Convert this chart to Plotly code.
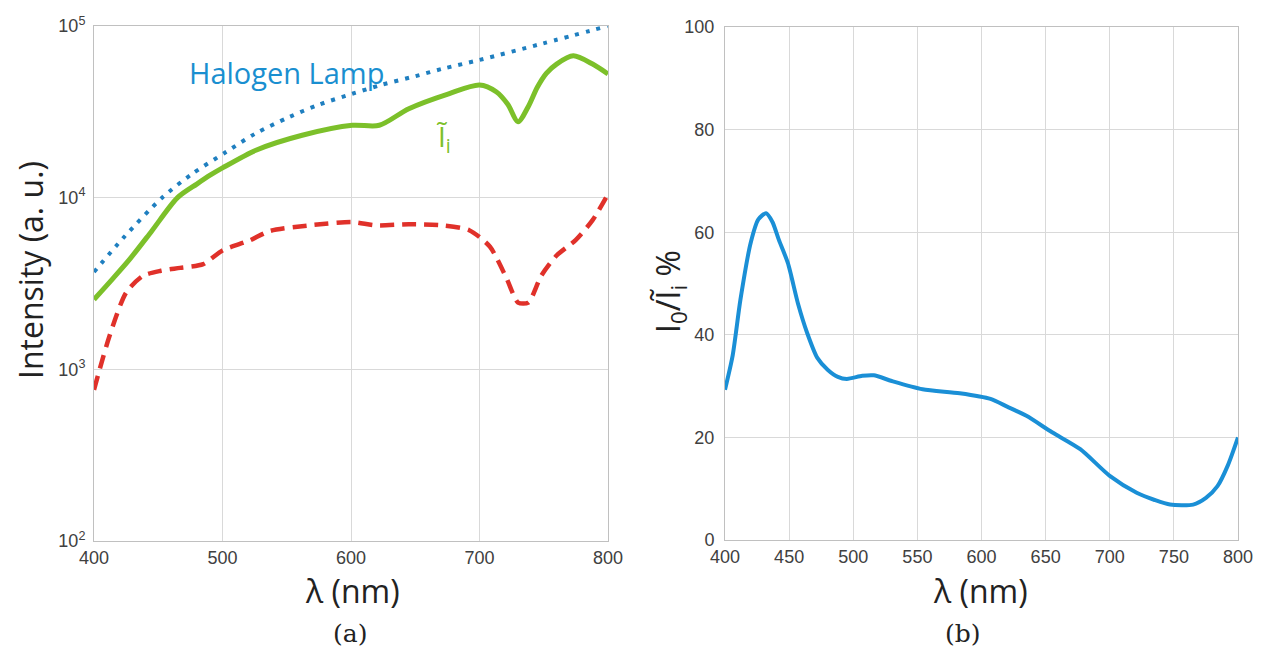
import plotly.graph_objects as go

# ---- data ----
halogen_wl = [400, 423, 453, 476, 503, 525, 552, 575, 601, 624, 650, 671, 700, 749, 800]
halogen_int = [3690, 5850, 10000, 13700, 18500, 23500, 29500, 34800, 40300, 45500, 51000, 56300, 63400, 79000, 100000]

ti_wl = [400, 415, 428, 445, 465, 480, 491, 500, 526, 562, 601, 622, 645, 676, 700, 713, 722, 730, 738, 745, 752, 760, 773, 788, 800]
ti_int = [2550, 3400, 4400, 6400, 10000, 12000, 13600, 14900, 18900, 23100, 26400, 26400, 33000, 40300, 45300, 41400, 35000, 27700, 34000, 44000, 53000, 60000, 67000, 60000, 52500]

red_wl = [400, 412, 425, 438, 452, 467, 485, 500, 521, 537, 568, 601, 619, 645, 671, 692, 708, 721, 730, 738, 748, 760, 775, 788, 800]
red_int = [760, 1560, 2800, 3500, 3750, 3900, 4100, 4930, 5630, 6400, 6900, 7210, 6900, 7000, 6900, 6460, 5190, 3400, 2450, 2450, 3500, 4600, 5680, 7400, 10500]

ratio_wl = [400, 406, 412, 420, 426, 432, 437, 442, 449, 457, 464, 472, 480, 488, 495, 507, 516, 530, 554, 583, 607, 620, 635, 655, 677, 700, 721, 735, 747, 765, 775, 784, 792, 800]
ratio_pct = [29.3, 36, 46.8, 57.9, 62.5, 63.7, 62, 58.5, 54, 46, 40.4, 35.5, 33.2, 31.8, 31.4, 32, 32.1, 31, 29.4, 28.6, 27.5, 26, 24.2, 21, 17.7, 12.5, 9.2, 7.8, 6.9, 6.9, 8.2, 10.5, 14.5, 20]

left_xticks = [400, 500, 600, 700, 800]
left_yticks = [100, 1000, 10000, 100000]
left_yticktext = ["10<sup>2</sup>", "10<sup>3</sup>", "10<sup>4</sup>", "10<sup>5</sup>"]
right_xticks = [400, 450, 500, 550, 600, 650, 700, 750, 800]
right_yticks = [0, 20, 40, 60, 80, 100]

W, H = 1262, 653
def px(x): return x / W
def py(y): return 1 - y / H

fig = go.Figure()
fig.add_trace(go.Scatter(x=halogen_wl, y=halogen_int, mode="lines",
                         line=dict(color="#1f7fc0", width=4, dash="4px,7px", shape="spline", smoothing=0.8),
                         xaxis="x", yaxis="y", showlegend=False))
fig.add_trace(go.Scatter(x=ti_wl, y=ti_int, mode="lines",
                         line=dict(color="#7cc02a", width=5, shape="spline", smoothing=0.8),
                         xaxis="x", yaxis="y", showlegend=False))
fig.add_trace(go.Scatter(x=red_wl, y=red_int, mode="lines",
                         line=dict(color="#e0312a", width=4.5, dash="14px,8px", shape="spline", smoothing=0.7),
                         xaxis="x", yaxis="y", showlegend=False))
fig.add_trace(go.Scatter(x=ratio_wl, y=ratio_pct, mode="lines",
                         line=dict(color="#1a8fd6", width=4, shape="spline", smoothing=0.7),
                         xaxis="x2", yaxis="y2", showlegend=False))

tickfont = dict(family="Liberation Sans, Arial", size=18, color="#404040")
common = dict(showgrid=True, gridcolor="#d9d9d9", gridwidth=1, showline=True, linecolor="#c0c0c0",
              linewidth=1, mirror=True, ticks="", tickfont=tickfont, zeroline=False, automargin=False)

fig.update_layout(
    width=W, height=H, margin=dict(l=0, r=0, t=0, b=0),
    paper_bgcolor="white", plot_bgcolor="white",
    xaxis=dict(domain=[px(94), px(608)], range=[400, 800], tickvals=left_xticks, anchor="y", **common),
    yaxis=dict(domain=[py(541), py(26)], type="log", range=[2, 5], tickvals=left_yticks,
               ticktext=left_yticktext, anchor="x", ticklabelstandoff=4, **common),
    xaxis2=dict(domain=[px(725), px(1238)], range=[400, 800], tickvals=right_xticks, anchor="y2", **common),
    yaxis2=dict(domain=[py(540), py(27)], range=[0, 100], tickvals=right_yticks, anchor="x2",
                ticklabelstandoff=6, **common),
)

titlefont = dict(family="Open Sans, Noto Sans", size=32, color="#222222")
serif = dict(family="DejaVu Serif", size=25, color="#222222")
ann = [
    dict(text="Intensity (a. u.)", x=px(30), y=py(270), textangle=-90, font=titlefont),
    dict(text="λ (nm)", x=px(352), y=py(590), font=titlefont),
    dict(text="λ (nm)", x=px(980), y=py(590), font=titlefont),
    dict(text="I<sub>0</sub>/Ĩ<sub>i</sub> %", x=px(670), y=py(292), textangle=-90, font=titlefont),
    dict(text="(a)", x=px(350), y=py(633), font=serif),
    dict(text="(b)", x=px(963), y=py(633), font=serif),
    dict(text="Halogen Lamp", x=px(286), y=py(72), font=dict(family="Open Sans, Noto Sans", size=29, color="#1a8fd0")),
    dict(text="Ĩ<sub>i</sub>", x=px(443), y=py(138), font=dict(family="Open Sans, Noto Sans", size=28, color="#7cc02a")),
]
for a in ann:
    a.update(xref="paper", yref="paper", showarrow=False, xanchor="center", yanchor="middle")
fig.update_layout(annotations=ann)

fig.write_html("out.html")
